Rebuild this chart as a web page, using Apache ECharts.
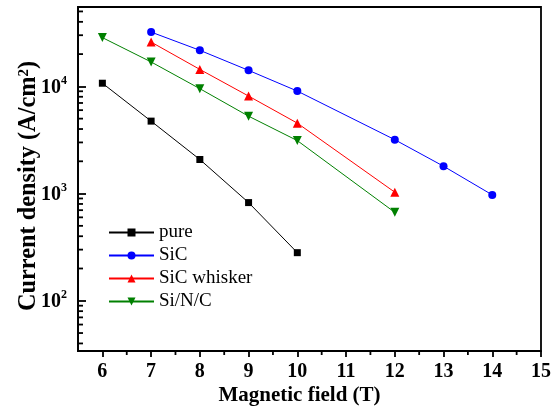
<!DOCTYPE html>
<html>
<head>
<meta charset="utf-8">
<script src="https://cdn.jsdelivr.net/npm/echarts@6/dist/echarts.min.js"></script>
<style>html,body{margin:0;padding:0;background:#fff}#c{width:552px;height:409px}</style>
</head>
<body>
<div id="c"></div>
<script>
// Magnetic field (T)
const fieldPure = [6, 7, 8, 9, 10];
const pure = [10700, 4740, 2080, 824, 281];
const fieldSiC = [7, 8, 9, 10, 12, 13, 14];
const sic = [32100, 21700, 14100, 9040, 3180, 1800, 972];
const fieldWhisker = [7, 8, 9, 10, 12];
const whisker = [25900, 14400, 8120, 4540, 1030];
const fieldSiNC = [6, 7, 8, 9, 10, 12];
const sinc = [28500, 16900, 9520, 5270, 3120, 668];
const seriesNames = ['pure', 'SiC', 'SiC whisker', 'Si/N/C'];

const X_MIN = 5.5, X_MAX = 15, Y_MIN = 34, Y_MAX = 55000;
const xMinorTicks = [];
for (let v = 6.5; v < X_MAX; v += 1) xMinorTicks.push(v);
const yMinorTicks = [];
for (let d = 10; d <= 10000; d *= 10) for (let m = 2; m <= 9; m++) {
  const v = m * d; if (v > Y_MIN && v < Y_MAX) yMinorTicks.push(v);
}

const zip = (xs, ys) => xs.map((x, i) => [x, ys[i]]);
const font = 'Liberation Serif';

function lineSeries(name, xs, ys, color, symbol, size, rot) {
  return {
    name, type: 'line', data: zip(xs, ys), symbol, symbolSize: size, symbolRotate: rot || 0,
    lineStyle: { color, width: 1 }, itemStyle: { color }, animation: false, z: 3
  };
}

const chart = echarts.init(document.getElementById('c'), null, { renderer: 'canvas' });
chart.setOption({
  animation: false,
  textStyle: { fontFamily: font },
  grid: {
    left: 78, right: 11, top: 7, bottom: 58, show: true, borderColor: '#000', borderWidth: 1.8,
    containLabel: false, outerBoundsMode: 'none'
  },
  legend: {
    data: seriesNames, left: 103, top: 218, orient: 'vertical', itemWidth: 45, itemHeight: 10, itemGap: 4,
    textStyle: { fontFamily: font, fontSize: 19, color: '#000' }
  },
  xAxis: {
    type: 'value', min: X_MIN, max: X_MAX, splitNumber: 10,
    name: 'Magnetic field (T)', nameLocation: 'middle', nameGap: 34, nameMoveOverlap: false,
    nameTextStyle: { fontFamily: font, fontWeight: 'bold', fontSize: 21, color: '#000', padding: [0, 20, 0, 0] },
    axisLine: { lineStyle: { color: '#000', width: 1.8 } },
    axisTick: { inside: false, length: 6, lineStyle: { color: '#000', width: 1.8 } },
    axisLabel: { showMinLabel: false, margin: 11, fontFamily: font, fontWeight: 'bold', fontSize: 20, color: '#000' },
    splitLine: { show: false }
  },
  yAxis: {
    type: 'log', min: Y_MIN, max: Y_MAX, logBase: 10,
    name: '{a|Current density (A/cm}{s|2}{a|)}', nameLocation: 'middle', nameGap: 37, nameMoveOverlap: false,
    nameTextStyle: {
      padding: [0, 14, 0, 0],
      rich: {
        a: { fontFamily: font, fontWeight: 'bold', fontSize: 24.3, color: '#000' },
        s: { fontFamily: font, fontWeight: 'bold', fontSize: 15, color: '#000', verticalAlign: 'top', padding: [0, 0, 8, 0] }
      }
    },
    axisLine: { show: true, lineStyle: { color: '#000', width: 1.8 } },
    axisTick: { show: true, inside: true, length: 8, lineStyle: { color: '#000', width: 1.8 } },
    axisLabel: {
      showMinLabel: false, showMaxLabel: false, margin: 11,
      formatter: v => { const e = Math.round(Math.log10(v)); return '{b|10}{s|' + e + '}'; },
      rich: {
        b: { fontFamily: font, fontWeight: 'bold', fontSize: 20, color: '#000', padding: [3, 0, 0, 0] },
        s: { fontFamily: font, fontWeight: 'bold', fontSize: 12, color: '#000', verticalAlign: 'top', padding: [0, 0, 8, 0] }
      }
    },
    splitLine: { show: false }
  },
  series: [
    lineSeries('pure', fieldPure, pure, '#000000', 'rect', 7),
    lineSeries('SiC', fieldSiC, sic, '#0000ff', 'circle', 8),
    lineSeries('SiC whisker', fieldWhisker, whisker, '#ff0000', 'triangle', 9),
    lineSeries('Si/N/C', fieldSiNC, sinc, '#008000', 'triangle', 9, 180),
    {
      type: 'custom', silent: true, z: 4, clip: false,
      data: yMinorTicks.map(v => [X_MIN, v]),
      renderItem: (p, api) => {
        const pt = api.coord([api.value(0), api.value(1)]);
        return { type: 'line', shape: { x1: pt[0], y1: pt[1], x2: pt[0] + 5, y2: pt[1] }, style: { stroke: '#000', lineWidth: 1.8 } };
      }
    },
    {
      type: 'custom', silent: true, z: 4, clip: false,
      data: xMinorTicks.map(v => [v, Y_MIN]),
      renderItem: (p, api) => {
        const pt = api.coord([api.value(0), api.value(1)]);
        return { type: 'line', shape: { x1: pt[0], y1: pt[1], x2: pt[0], y2: pt[1] + 4 }, style: { stroke: '#000', lineWidth: 1.8 } };
      }
    }
  ]
});
</script>
</body>
</html>
